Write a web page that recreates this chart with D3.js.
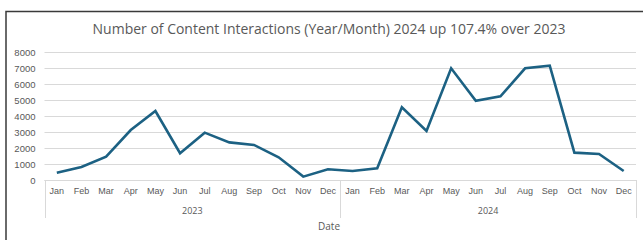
<!DOCTYPE html>
<html><head><meta charset="utf-8">
<script src="https://cdn.jsdelivr.net/npm/d3@7"></script>
<style>
body{margin:0;background:#fff;}
svg{display:block;font-family:"Open Sans","Noto Sans",sans-serif;}
</style></head>
<body>
<svg id="c" width="643" height="240"></svg>
<script>
const title = "Number of Content Interactions (Year/Month) 2024 up 107.4% over 2023";
const months = ["Jan","Feb","Mar","Apr","May","Jun","Jul","Aug","Sep","Oct","Nov","Dec"];
const years = ["2023","2024"];
const values2023 = [455, 810, 1460, 3125, 4310, 1670, 2960, 2350, 2190, 1420, 210, 670];
const values2024 = [560, 730, 4540, 3060, 6980, 4950, 5230, 6980, 7150, 1710, 1625, 560];
const yTicks = [0,1000,2000,3000,4000,5000,6000,7000,8000];
const xTitle = "Date";

const data = [];
years.forEach((yr, yi) => {
  const vals = yi === 0 ? values2023 : values2024;
  months.forEach((m, mi) => data.push({key: yr + "-" + m, year: yr, month: m, value: vals[mi]}));
});

const svg = d3.select("#c");
svg.append("rect").attr("width",643).attr("height",240).attr("fill","#fff");
svg.append("rect").attr("x",6).attr("y",11.5).attr("width",660).attr("height",260)
  .attr("fill","none").attr("stroke","#3a3a3a").attr("stroke-width",1.5);

const pLeft = 44.5, pRight = 636, pTop = 52, pBottom = 180;
const x = d3.scaleBand().domain(data.map(d => d.key)).range([pLeft, pRight]).padding(0);
const y = d3.scaleLinear().domain([0, 8000]).range([pBottom, pTop]);
const grey = "#595959";

// gridlines + y labels
const yAxis = svg.append("g").attr("transform", `translate(${pLeft},0)`)
  .call(d3.axisLeft(y).tickValues(yTicks).tickSize(-(pRight-pLeft)).tickPadding(9).tickFormat(d3.format("d")));
yAxis.select(".domain").remove();
yAxis.selectAll(".tick line").attr("stroke","#d9d9d9").attr("stroke-width",1);
yAxis.selectAll(".tick text").attr("fill",grey).attr("font-size",9.5);

// category axis box
const g = svg.append("g");
g.append("line").attr("x1",pLeft).attr("x2",pRight).attr("y1",pBottom+0.5).attr("y2",pBottom+0.5).attr("stroke","#d9d9d9");
const bounds = [pLeft, x(years[1]+"-Jan"), pRight];
bounds.forEach(b => g.append("line").attr("x1",Math.round(b)+0.5).attr("x2",Math.round(b)+0.5)
  .attr("y1",pBottom).attr("y2",218).attr("stroke","#d9d9d9"));

const xAxis = svg.append("g").attr("transform", `translate(0,${pBottom})`)
  .call(d3.axisBottom(x).tickSize(0).tickPadding(8).tickFormat(k => k.split("-")[1]));
xAxis.select(".domain").remove();
xAxis.selectAll(".tick text").attr("fill",grey).attr("font-size",9);

years.forEach(yr => {
  const x0 = x(yr+"-Jan"), x1 = x(yr+"-Dec") + x.bandwidth();
  svg.append("text").attr("x",(x0+x1)/2).attr("y",214).attr("text-anchor","middle")
    .attr("fill",grey).attr("font-size",9).text(yr);
});

svg.append("text").attr("x",329).attr("y",230).attr("text-anchor","middle")
  .attr("fill",grey).attr("font-size",10).text(xTitle);

// title
const t = svg.append("text").attr("x",329).attr("y",34).attr("text-anchor","middle")
  .attr("fill",grey).attr("font-size",14.5).text(title);
const w = t.node().getComputedTextLength();
t.attr("font-size", 14.5 * 473 / w);

// line
const line = d3.line().x(d => x(d.key) + x.bandwidth()/2).y(d => y(d.value));
svg.append("path").datum(data).attr("d",line).attr("fill","none")
  .attr("stroke","#1c6183").attr("stroke-width",2.6).attr("stroke-linejoin","miter");
</script>
</body></html>
